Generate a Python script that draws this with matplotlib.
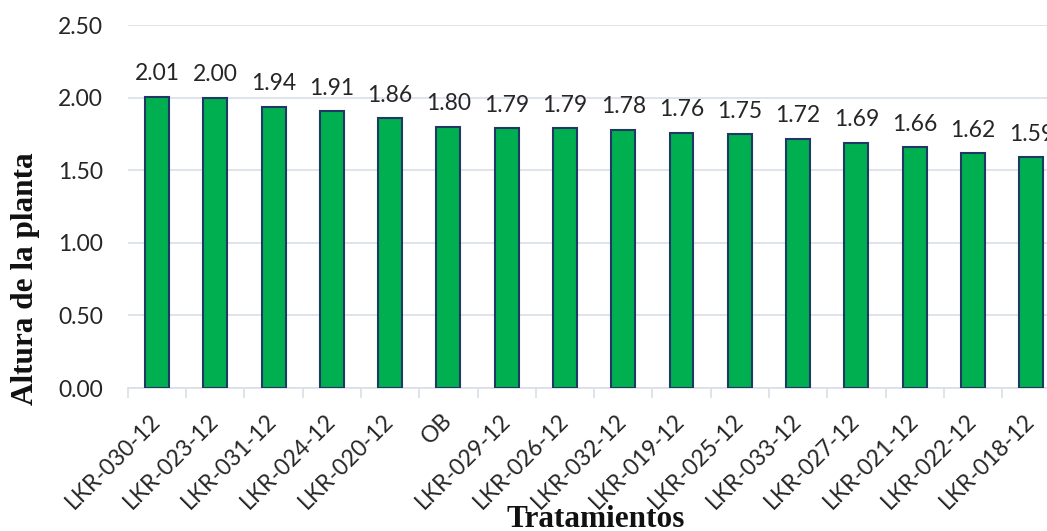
import matplotlib
matplotlib.use("Agg")
import matplotlib.pyplot as plt
import numpy as np

categories = ["LKR-030-12", "LKR-023-12", "LKR-031-12", "LKR-024-12", "LKR-020-12", "OB",
              "LKR-029-12", "LKR-026-12", "LKR-032-12", "LKR-019-12", "LKR-025-12", "LKR-033-12",
              "LKR-027-12", "LKR-021-12", "LKR-022-12", "LKR-018-12"]
values = [2.01, 2.00, 1.94, 1.91, 1.86, 1.80, 1.79, 1.79, 1.78, 1.76, 1.75, 1.72, 1.69, 1.66, 1.62, 1.59]
yticks = [0.0, 0.5, 1.0, 1.5, 2.0, 2.5]

SANS = ["Lato", "DejaVu Sans"]
SERIF = ["Liberation Serif", "DejaVu Serif"]
FS = 16.5

fig = plt.figure(figsize=(10.47, 5.31), dpi=100)
ax = fig.add_axes([0.1221, 0.2693, 0.8907, 0.6827])

x = np.arange(len(categories))
ax.bar(x, values, width=0.41, color="#00B050", edgecolor="#1F3864", linewidth=1.5, zorder=3)

for xi, v in zip(x, values):
    ax.annotate(f"{v:.2f}", (xi, v), xytext=(0, 9), textcoords="offset points",
                ha="center", va="bottom", fontsize=FS, family=SANS, color="#262626",
                annotation_clip=False)

ax.set_xlim(-0.5, len(categories) - 0.5)
ax.set_ylim(0, 2.5)
ax.set_yticks(yticks)
ax.set_yticklabels([f"{t:.2f}" for t in yticks], fontsize=FS, family=SANS, color="#262626")
ax.yaxis.grid(True, color="#D9DEE8", linewidth=1.2, zorder=0)
ax.set_axisbelow(True)

ax.set_xticks(x)
ax.set_xticklabels(categories, rotation=45, ha="right", va="center", rotation_mode="anchor",
                   fontsize=FS, family=SANS, color="#262626")
ax.tick_params(axis="x", which="major", length=0, pad=21)
ax.set_xticks(np.arange(-0.5, len(categories), 1.0), minor=True)
ax.tick_params(axis="x", which="minor", length=7, color="#D9DEE8", width=1.2)
ax.tick_params(axis="y", length=0, pad=18)

for s in ["top", "right", "left"]:
    ax.spines[s].set_visible(False)
ax.spines["bottom"].set_color("#D9DEE8")
ax.spines["bottom"].set_linewidth(1.2)

fig.text(0.024, 0.476, "Altura de la planta", rotation=90, ha="center", va="center",
         fontsize=22.5, fontweight="bold", family=SERIF, color="#111111")
fig.text(0.569, 0.049, "Tratamientos", ha="center", va="top",
         fontsize=22.5, fontweight="bold", family=SERIF, color="#111111")

fig.savefig("out.png", dpi=100)
